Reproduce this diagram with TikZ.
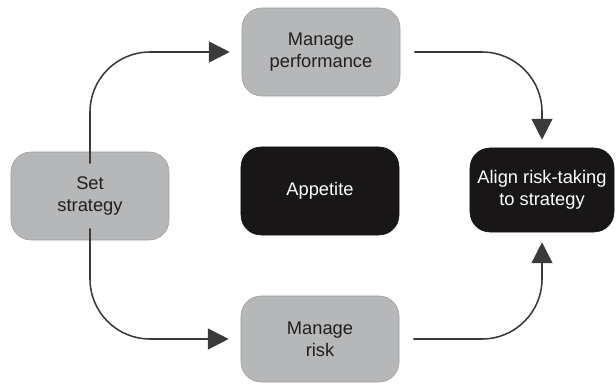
\documentclass[tikz,border=0pt]{standalone}
\usepackage{fontspec}
\setmainfont{Liberation Sans}
\usepackage{xcolor}
\usepackage{tikz}
\usetikzlibrary{arrows.meta}
\definecolor{boxGray}{HTML}{B5B7B8}
\definecolor{boxEdge}{HTML}{9C9E9F}
\definecolor{boxBlack}{HTML}{181616}
\definecolor{flowLine}{HTML}{3A3A3A}
\tikzset{%
  stepnode/.style={rectangle, rounded corners=0.5cm, draw=boxEdge, fill=boxGray, thin, minimum width=3.95cm, minimum height=2.2cm, align=center, font=\fontsize{13}{15.5}\selectfont, text=black!88},
  % black boxes for the core ideas
  corenode/.style={stepnode, draw=boxBlack, fill=boxBlack, text=white},
  flow/.style={draw=flowLine, line width=1.1pt, rounded corners=1.5cm, -{Triangle[length=0.52cm, width=0.52cm]}}}

\begin{document}
\begin{tikzpicture}[x=0.025cm, y=-0.025cm]
        \useasboundingbox (0,0) rectangle (616,386);

        %Nodes
        \node[stepnode] (strategy) at (90,196) {Set\\strategy};
        \node[stepnode] (performance) at (321,52) {Manage\\performance};
        \node[corenode] (appetite) at (320,191) {Appetite};
        \node[corenode, minimum width=3.6cm, minimum height=2.1cm] (align) at (542,190) {Align risk-taking\\to strategy};
        \node[stepnode, minimum height=2.15cm] (risk) at (320,339) {Manage\\risk};

        %Lines
        \draw[flow] ([yshift=-0.3cm]strategy.north) |- ([xshift=-0.3cm]performance.west);
        \draw[flow] ([xshift=0.35cm]performance.east) -| ([yshift=0.2cm]align.north);
        \draw[flow] ([yshift=0.3cm]strategy.south) |- ([xshift=-0.3cm]risk.west);
        \draw[flow] ([xshift=0.35cm]risk.east) -| ([yshift=-0.25cm]align.south);
    \end{tikzpicture}
\end{document}
